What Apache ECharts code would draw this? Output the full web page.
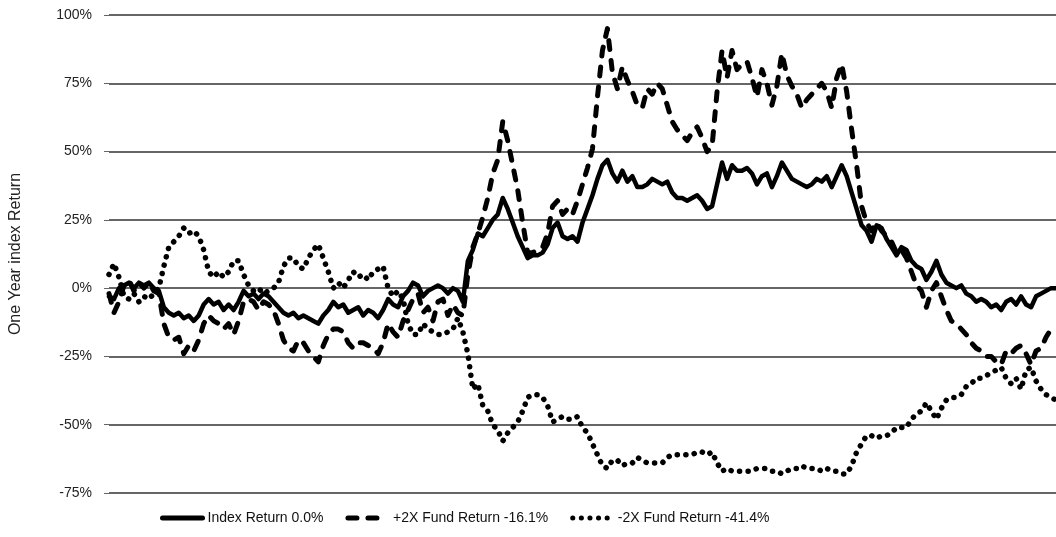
<!DOCTYPE html>
<html>
<head>
<meta charset="utf-8">
<script src="https://cdn.jsdelivr.net/npm/echarts@6/dist/echarts.min.js"></script>
<style>
  html, body { margin: 0; padding: 0; background: #fff; }
  #chart { width: 1056px; height: 537px; }
</style>
</head>
<body>
<div id="chart"></div>
<script>
// 指数一年收益 vs 2倍正/反向基金收益
var indexReturn = [
  -3,-4,0,1,2,0,2,1,2,0,
  -1,-7,-9,-10,-9,-11,-10,-12,-10,-6,
  -4,-6,-5,-8,-6,-8,-5,-1,-3,-2,
  -4,-2,-3,-5,-7,-9,-10,-9,-11,-10,
  -11,-12,-13,-10,-8,-5,-7,-6,-9,-8,
  -7,-10,-8,-9,-11,-8,-4,-6,-7,-3,
  -1,2,1,-3,-1,0,1,0,-2,0,
  -1,-5,10,14,20,19,22,25,27,33,
  29,24,19,15,11,12,12,13,16,22,
  24,19,18,19,17,24,29,34,40,45,
  47,42,39,43,39,41,37,37,38,40,
  39,38,39,35,33,33,32,33,34,32,
  29,30,38,46,40,45,43,43,44,42,
  38,41,42,37,41,46,43,40,39,38,
  37,38,40,39,41,37,41,45,41,35,
  29,23,21,17,23,22,18,15,12,15,
  14,10,8,7,3,6,10,5,2,1,
  0,1,-2,-3,-5,-4,-5,-7,-6,-8,
  -5,-4,-6,-3,-6,-7,-3,-2,-1,0,
  0
];
var plus2Return = [
  -2,-9,-5,1,3,-1,2,0,2,-1,
  -2,-13,-18,-19,-18,-24,-21,-23,-19,-13,
  -10,-12,-13,-15,-13,-17,-12,-5,-4,-5,
  -8,-5,-6,-8,-13,-19,-22,-23,-19,-20,
  -23,-25,-27,-21,-17,-15,-15,-16,-20,-22,
  -20,-20,-21,-22,-24,-20,-13,-16,-18,-12,
  -8,-4,-2,-9,-7,-12,-5,-4,-10,-6,
  -9,-10,5,15,20,26,33,42,47,61,
  54,45,36,24,13,13,14,15,20,30,
  32,27,29,27,32,38,44,51,70,87,
  95,79,73,81,76,72,67,66,73,71,
  75,73,67,61,58,56,54,57,59,55,
  50,52,72,87,77,87,80,82,83,77,
  70,80,75,67,74,86,78,74,71,66,
  69,71,73,75,72,66,77,82,72,58,
  45,30,24,21,24,21,19,17,13,14,
  11,6,1,-1,-7,-1,2,-3,-8,-12,
  -13,-15,-17,-20,-22,-23,-25,-25,-27,-28,
  -23,-24,-22,-21,-24,-28,-23,-22,-18,-15,
  -16
];
var minus2Return = [
  5,9,4,-3,-4,-2,-5,-3,-4,-2,
  0,8,15,17,19,22,20,21,19,14,
  6,4,6,4,6,10,10,5,1,-1,
  0,-2,-1,0,2,8,11,11,8,7,
  11,14,16,11,6,0,2,0,3,6,
  4,5,3,6,7,8,0,-3,-1,-4,
  -13,-17,-17,-13,-15,-16,-17,-17,-16,-15,
  -11,-16,-24,-37,-35,-43,-45,-50,-52,-56,
  -53,-51,-49,-45,-40,-39,-39,-40,-43,-49,
  -48,-47,-48,-48,-47,-51,-53,-57,-61,-65,
  -66,-63,-63,-65,-64,-64,-62,-63,-64,-64,
  -64,-64,-62,-61,-61,-61,-61,-61,-60,-60,
  -61,-60,-64,-67,-66,-67,-67,-67,-67,-67,
  -66,-66,-66,-67,-67,-68,-67,-66,-66,-65,
  -66,-66,-66,-67,-66,-67,-67,-68,-68,-65,
  -60,-57,-54,-54,-55,-54,-54,-53,-51,-51,
  -51,-48,-46,-45,-42,-45,-48,-44,-41,-40,
  -40,-39,-36,-35,-33,-33,-32,-31,-30,-29,
  -33,-35,-33,-37,-30,-29,-34,-37,-39,-40,
  -41
];
var seriesNames = ['Index Return 0.0%', '+2X Fund Return -16.1%', '-2X Fund Return -41.4%'];
var yTicks = [-75, -50, -25, 0, 25, 50, 75, 100];

var days = [];
for (var i = 0; i < indexReturn.length; i++) { days.push(String(i + 1)); }

var myChart = echarts.init(document.getElementById('chart'));
var option = {
  animation: false,
  grid: { left: 107, right: 0, top: 15, bottom: 44 },
  legend: {
    bottom: 7,
    left: 155,
    itemWidth: 40,
    itemHeight: 14,
    itemGap: 22,
    data: seriesNames,
    // 图例只画线, 不画圆点
    itemStyle: { opacity: 0, borderWidth: 0 },
    lineStyle: { width: 5, cap: 'round' },
    textStyle: {
      fontFamily: '"Liberation Sans", Arial, sans-serif',
      fontSize: 14,
      color: '#111'
    }
  },
  xAxis: {
    type: 'category',
    boundaryGap: false,
    data: days,
    axisLine: { show: false },
    axisTick: { show: false },
    axisLabel: { show: false },
    splitLine: { show: false }
  },
  yAxis: {
    type: 'value',
    min: yTicks[0],
    max: yTicks[yTicks.length - 1],
    interval: 25,
    name: 'One Year index Return',
    nameLocation: 'middle',
    nameGap: 85,
    nameRotate: 90,
    nameTextStyle: { fontFamily: '"Liberation Sans", Arial, sans-serif', fontSize: 16, color: '#222' },
    axisLine: { show: false },
    axisTick: { show: true, length: 5, lineStyle: { color: '#666' } },
    axisLabel: {
      formatter: '{value}%',
      margin: 17,
      fontFamily: '"Liberation Sans", Arial, sans-serif',
      fontSize: 14,
      color: '#222'
    },
    splitLine: { lineStyle: { color: '#333', width: 1.5 } }
  },
  series: [
    {
      name: seriesNames[0],
      type: 'line',
      data: indexReturn,
      symbol: 'none',
      z: 4,
      itemStyle: { color: '#000' },
      lineStyle: { color: '#000', width: 4.5, join: 'round', cap: 'round' }
    },
    {
      name: seriesNames[1],
      type: 'line',
      data: plus2Return,
      symbol: 'none',
      z: 3,
      itemStyle: { color: '#000' },
      lineStyle: { color: '#000', width: 5, type: [9, 11], cap: 'round', join: 'round' }
    },
    {
      name: seriesNames[2],
      type: 'line',
      data: minus2Return,
      symbol: 'none',
      z: 2,
      itemStyle: { color: '#000' },
      lineStyle: { color: '#000', width: 5.5, type: [0.1, 8.5], cap: 'round', join: 'round' }
    }
  ]
};
myChart.setOption(option);
window.addEventListener('resize', function () {
  myChart.resize();
});
</script>
</body>
</html>
